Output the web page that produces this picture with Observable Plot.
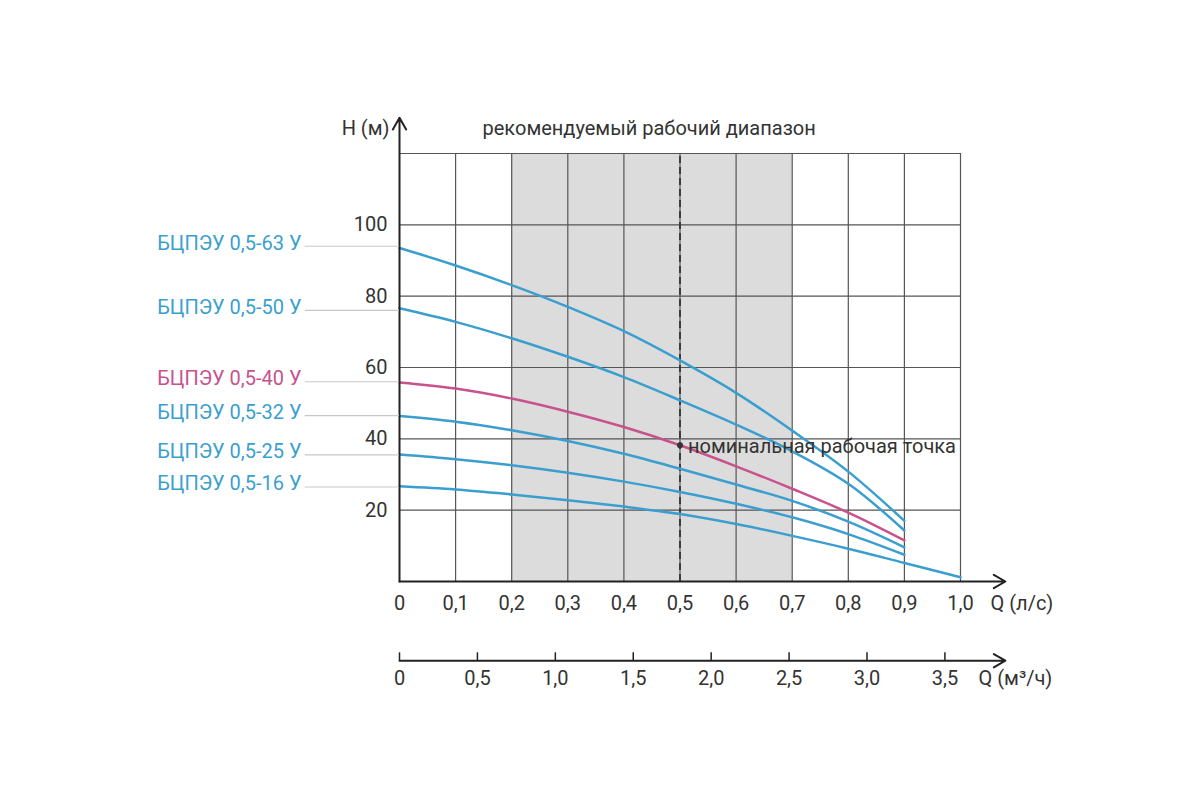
<!DOCTYPE html>
<html><head><meta charset="utf-8">
<script src="https://cdn.jsdelivr.net/npm/d3@7"></script>
<script src="https://cdn.jsdelivr.net/npm/@observablehq/plot@0.6"></script>
<style>body{margin:0;background:#fff;font-family:Roboto,sans-serif}</style>
</head><body><div id="chart"></div>
<script>
const qLs = [0,0.1,0.2,0.3,0.4,0.5,0.6,0.7,0.8,0.9];
const series = [
  {name:"БЦПЭУ 0,5-63 У", color:"#3a9fcf", q:qLs, h:[93.5,88.6,83.1,77,70.2,62,52.9,42.3,30.8,17]},
  {name:"БЦПЭУ 0,5-50 У", color:"#3a9fcf", q:qLs, h:[76.6,72.8,68.2,63,57.3,50.8,44,36.5,27.4,14.3]},
  {name:"БЦПЭУ 0,5-40 У", color:"#c9518e", q:qLs, h:[55.8,54.1,51.3,47.6,43.3,38.2,32.3,26,19.3,11.5]},
  {name:"БЦПЭУ 0,5-32 У", color:"#3a9fcf", q:qLs, h:[46.4,44.8,42.4,39.4,35.8,31.6,27.2,22.6,16.8,9.6]},
  {name:"БЦПЭУ 0,5-25 У", color:"#3a9fcf", q:qLs, h:[35.6,34.3,32.6,30.5,28,25.1,21.8,18,13.3,7.5]},
  {name:"БЦПЭУ 0,5-16 У", color:"#3a9fcf", q:[...qLs,1.0], h:[26.7,25.8,24.4,22.8,21,18.9,16.1,12.8,9.2,5.2,1.2]}
];
const labelY = [94,76,56,46.5,35.5,26.5];
const xTicks = [0,0.1,0.2,0.3,0.4,0.5,0.6,0.7,0.8,0.9,1.0];
const yTicks = [20,40,60,80,100];
const m3Ticks = [0,0.5,1.0,1.5,2.0,2.5,3.0,3.5];
const gridY = [20,40,60,80,100,120];
const fmt1 = v => v===0 ? "0" : v.toFixed(1).replace(".",",");

const pts = series.flatMap(s => s.q.map((q,i)=>({name:s.name,color:s.color,q,h:s.h[i]})));
const AX2 = -22.2;
const F = "Roboto, sans-serif";
const one = [{}];

const chart = Plot.plot({
  width:1200, height:800,
  marginLeft:399, marginRight:240, marginTop:153, marginBottom:219,
  x:{type:"linear", domain:[0,1], axis:null},
  y:{type:"linear", domain:[0,120], axis:null},
  style:{fontFamily:F, fontSize:"20px"},
  marks:[
    Plot.rect(one,{x1:0.2,x2:0.7,y1:0,y2:120,fill:"#dcdcdc"}),
    Plot.ruleX(xTicks.slice(1),{x:d=>d,y1:0,y2:120,stroke:"#555",strokeWidth:1.2}),
    Plot.ruleY(gridY,{y:d=>d,x1:0,x2:1,stroke:"#555",strokeWidth:1.2}),
    Plot.ruleX([0.5],{x:d=>d,y1:0,y2:120,stroke:"#333",strokeWidth:1.8,strokeDasharray:"7,4"}),
    Plot.line(pts,{x:"q",y:"h",z:"name",stroke:"color",strokeWidth:2.5,curve:"catmull-rom"}),
    Plot.arrow(one,{x1:0,y1:0,x2:1.08,y2:0,stroke:"#222",strokeWidth:2,headLength:10}),
    Plot.arrow(one,{x1:0,y1:0,x2:0,y2:130,stroke:"#222",strokeWidth:2,headLength:10}),
    Plot.arrow(one,{x1:0,y1:AX2,x2:1.08,y2:AX2,stroke:"#222",strokeWidth:2,headLength:10}),
    Plot.text(xTicks,{x:d=>d,y:0,dy:22,text:fmt1,fill:"#333"}),
    Plot.text(one,{x:1,y:0,dx:30,dy:22,textAnchor:"start",fill:"#333",text:()=>"Q (л/с)"}),
    Plot.ruleX(m3Ticks,{x:d=>d/3.6,y1:AX2,y2:AX2+2.2,stroke:"#222",strokeWidth:1.5}),
    Plot.text(m3Ticks,{x:d=>d/3.6,y:AX2,dy:18,text:fmt1,fill:"#333"}),
    Plot.text(one,{x:1,y:AX2,dx:18,dy:18,textAnchor:"start",fill:"#333",text:()=>"Q (м³/ч)"}),
    Plot.text(yTicks,{x:0,y:d=>d,dx:-12,textAnchor:"end",text:d=>String(d),fill:"#333"}),
    Plot.text(one,{x:0,y:127,dx:-10,textAnchor:"end",fill:"#333",text:()=>"Н (м)"}),
    Plot.text(one,{x:0.445,y:127,fill:"#333",text:()=>"рекомендуемый рабочий диапазон"}),
    Plot.dot([{q:0.5,h:38.2}],{x:"q",y:"h",r:3,fill:"#333"}),
    Plot.text(one,{x:0.5,y:38.2,dx:8,dy:1,textAnchor:"start",fill:"#333",text:()=>"номинальная рабочая точка"}),
    Plot.ruleY(labelY,{y:d=>d,x1:-0.168,x2:0,stroke:"#c8c8c8",strokeWidth:1.2}),
    Plot.text(series,{x:0,y:(d,i)=>labelY[i],dx:-98,dy:-3,textAnchor:"end",text:"name",fill:"color"})
  ]
});
document.getElementById("chart").append(chart);
</script></body></html>
